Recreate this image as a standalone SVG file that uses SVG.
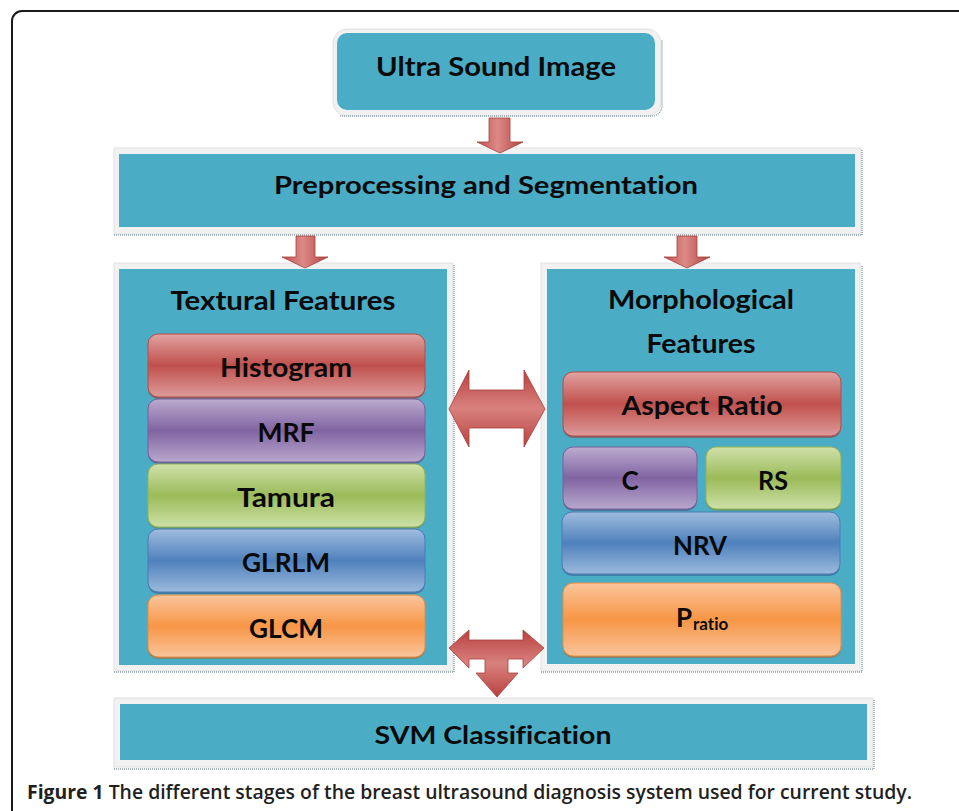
<svg xmlns="http://www.w3.org/2000/svg" width="959" height="811" viewBox="0 0 959 811">
  <defs>
    <style>
      .frame { fill: #ffffff; stroke: #1a1a1a; stroke-width: 2; }
      .band { fill: #f1f1f1; stroke: #e2e2e2; stroke-width: 1; }
      .teal { fill: #4bacc6; }
      .dots { stroke: #8aa0a8; stroke-width: 1.5; stroke-dasharray: 1 1; fill: none; }
      .lbl { font-family: Lato, "Open Sans", "DejaVu Sans", sans-serif; font-weight: 700; fill: #0a0a0a; text-anchor: middle; font-variant-ligatures: none; }
      .cap { font-family: "Open Sans", "Noto Sans", "DejaVu Sans", sans-serif; font-size: 19px; fill: #231f20; font-variant-ligatures: none; }
      .arrow { stroke: #a63f3c; stroke-width: 0.8; stroke-linejoin: miter; }
      .shade { opacity: 0.55; }
    </style>
    <linearGradient id="gRed" x1="0" y1="0" x2="0" y2="1">
      <stop offset="0" stop-color="#e1a3a1"/>
      <stop offset="0.5" stop-color="#c0504d"/>
      <stop offset="1" stop-color="#dc9b99"/>
    </linearGradient>
    <linearGradient id="gPurple" x1="0" y1="0" x2="0" y2="1">
      <stop offset="0" stop-color="#bcabcf"/>
      <stop offset="0.5" stop-color="#8064a2"/>
      <stop offset="1" stop-color="#b9a8cd"/>
    </linearGradient>
    <linearGradient id="gGreen" x1="0" y1="0" x2="0" y2="1">
      <stop offset="0" stop-color="#d0e1ab"/>
      <stop offset="0.5" stop-color="#9bbb59"/>
      <stop offset="1" stop-color="#cde0a6"/>
    </linearGradient>
    <linearGradient id="gBlue" x1="0" y1="0" x2="0" y2="1">
      <stop offset="0" stop-color="#a0bcde"/>
      <stop offset="0.5" stop-color="#4f81bd"/>
      <stop offset="1" stop-color="#9cb9dc"/>
    </linearGradient>
    <linearGradient id="gOrange" x1="0" y1="0" x2="0" y2="1">
      <stop offset="0" stop-color="#fbc59d"/>
      <stop offset="0.5" stop-color="#f79646"/>
      <stop offset="1" stop-color="#fac49b"/>
    </linearGradient>
    <linearGradient id="gArrowV" x1="0" y1="0" x2="1" y2="0">
      <stop offset="0" stop-color="#c0504d"/>
      <stop offset="0.45" stop-color="#dc8a87"/>
      <stop offset="1" stop-color="#b4423f"/>
    </linearGradient>
    <linearGradient id="gArrowH" x1="0" y1="0" x2="0" y2="1">
      <stop offset="0" stop-color="#b8413e"/>
      <stop offset="0.5" stop-color="#d9817e"/>
      <stop offset="1" stop-color="#b8413e"/>
    </linearGradient>
  </defs>

  <!-- figure frame -->
  <rect class="frame" x="12" y="11" width="1000" height="900" rx="10"/>

  <!-- top input node -->
  <g id="ultrasound">
    <rect class="band" x="333" y="29" width="328" height="87" rx="14"/>
    <path class="dots" d="M340 116 H650 Q661 116 662 106 V40"/>
    <rect class="teal" x="337" y="33" width="318" height="77" rx="10"/>
    <text class="lbl" x="496" y="76" font-size="26" textLength="240" lengthAdjust="spacingAndGlyphs">Ultra Sound Image</text>
  </g>

  <g id="preprocessing">
    <rect class="band" x="114" y="148" width="747" height="86"/>
    <path class="dots" d="M114 235 H862 V150"/>
    <rect class="teal" x="119" y="154" width="736" height="73"/>
    <text class="lbl" x="486" y="194" font-size="24" textLength="424" lengthAdjust="spacingAndGlyphs">Preprocessing and Segmentation</text>
  </g>

  <g id="textural">
    <rect class="band" x="114" y="263" width="339" height="408"/>
    <path class="dots" d="M114 672 H454 V265"/>
    <rect class="teal" x="119" y="269" width="328" height="396"/>
    <text class="lbl" x="283" y="310" font-size="26" textLength="225" lengthAdjust="spacingAndGlyphs">Textural Features</text>

    <g id="histogram">
      <rect class="shade" x="148" y="336" width="277" height="63" rx="10" fill="#8c3a38"/>
      <rect x="148" y="334" width="277" height="63" rx="10" fill="url(#gRed)" stroke="#b94a47"/>
      <text class="lbl" x="286" y="377" font-size="26" textLength="132" lengthAdjust="spacingAndGlyphs">Histogram</text>
    </g>
    <g id="mrf">
      <rect class="shade" x="148" y="401" width="277" height="63" rx="10" fill="#5a4478"/>
      <rect x="148" y="399" width="277" height="63" rx="10" fill="url(#gPurple)" stroke="#7a5e9b"/>
      <text class="lbl" x="286" y="442" font-size="26" textLength="57" lengthAdjust="spacingAndGlyphs">MRF</text>
    </g>
    <g id="tamura">
      <rect class="shade" x="148" y="466" width="277" height="63" rx="10" fill="#6f8a3c"/>
      <rect x="148" y="464" width="277" height="63" rx="10" fill="url(#gGreen)" stroke="#93b254"/>
      <text class="lbl" x="286" y="507" font-size="26" textLength="98" lengthAdjust="spacingAndGlyphs">Tamura</text>
    </g>
    <g id="glrlm">
      <rect class="shade" x="148" y="531" width="277" height="63" rx="10" fill="#345d8c"/>
      <rect x="148" y="529" width="277" height="63" rx="10" fill="url(#gBlue)" stroke="#4a7bb4"/>
      <text class="lbl" x="286" y="572" font-size="26" textLength="88" lengthAdjust="spacingAndGlyphs">GLRLM</text>
    </g>
    <g id="glcm">
      <rect class="shade" x="148" y="597" width="277" height="62" rx="10" fill="#b8621f"/>
      <rect x="148" y="595" width="277" height="62" rx="10" fill="url(#gOrange)" stroke="#e98b3f"/>
      <text class="lbl" x="286" y="638" font-size="26" textLength="74" lengthAdjust="spacingAndGlyphs">GLCM</text>
    </g>
  </g>

  <g id="morphological">
    <rect class="band" x="541" y="263" width="319" height="408"/>
    <path class="dots" d="M541 672 H862 V265"/>
    <rect class="teal" x="547" y="269" width="308" height="395"/>
    <text class="lbl" x="701" y="309" font-size="26" textLength="186" lengthAdjust="spacingAndGlyphs">Morphological</text>
    <text class="lbl" x="701" y="353" font-size="26" textLength="109" lengthAdjust="spacingAndGlyphs">Features</text>

    <g id="aspect-ratio">
      <rect class="shade" x="563" y="374" width="278" height="64" rx="10" fill="#8c3a38"/>
      <rect x="563" y="372" width="278" height="64" rx="10" fill="url(#gRed)" stroke="#b94a47"/>
      <text class="lbl" x="702" y="415" font-size="26" textLength="161" lengthAdjust="spacingAndGlyphs">Aspect Ratio</text>
    </g>
    <g id="c">
      <rect class="shade" x="563" y="449" width="134" height="62" rx="10" fill="#5a4478"/>
      <rect x="563" y="447" width="134" height="62" rx="10" fill="url(#gPurple)" stroke="#7a5e9b"/>
      <text class="lbl" x="630" y="490" font-size="26">C</text>
    </g>
    <g id="rs">
      <rect class="shade" x="706" y="449" width="135" height="62" rx="10" fill="#6f8a3c"/>
      <rect x="706" y="447" width="135" height="62" rx="10" fill="url(#gGreen)" stroke="#93b254"/>
      <text class="lbl" x="773" y="490" font-size="26" textLength="30" lengthAdjust="spacingAndGlyphs">RS</text>
    </g>
    <g id="nrv">
      <rect class="shade" x="562" y="514" width="278" height="62" rx="10" fill="#345d8c"/>
      <rect x="562" y="512" width="278" height="62" rx="10" fill="url(#gBlue)" stroke="#4a7bb4"/>
      <text class="lbl" x="700" y="555" font-size="26" textLength="54" lengthAdjust="spacingAndGlyphs">NRV</text>
    </g>
    <g id="pratio">
      <rect class="shade" x="563" y="585" width="278" height="73" rx="10" fill="#b8621f"/>
      <rect x="563" y="583" width="278" height="73" rx="10" fill="url(#gOrange)" stroke="#e98b3f"/>
      <text class="lbl" x="676" y="627" font-size="26" style="text-anchor:start">P<tspan font-size="17" dx="1" dy="3">ratio</tspan></text>
    </g>
  </g>

  <g id="svm">
    <rect class="band" x="114" y="698" width="759" height="69"/>
    <path class="dots" d="M114 769 H874 V700"/>
    <rect class="teal" x="120" y="704" width="747" height="56"/>
    <text class="lbl" x="493" y="744" font-size="25" textLength="237" lengthAdjust="spacingAndGlyphs">SVM Classification</text>
  </g>

  <!-- block arrows between stages -->
  <g id="connectors">
    <path class="arrow" fill="url(#gArrowV)" d="M489 118 H510 V142 H523 L500 153 L477 142 H489 Z"/>
    <path class="arrow" fill="url(#gArrowV)" d="M296 236 H315 V257 H328 L305 268 L282 257 H296 Z"/>
    <path class="arrow" fill="url(#gArrowV)" d="M677 236 H697 V257 H710 L687 268 L664 257 H677 Z"/>
    <path class="arrow" fill="url(#gArrowH)" d="M449 409 L469 370 V390 H524 V370 L545 409 L524 447 V428 H469 V447 Z"/>
    <path class="arrow" fill="url(#gArrowH)" d="M449 648 L469 630 V640 H523 V630 L544 648 L523 668 V659 H508 V673 H518 L497 697 L476 673 H485 V659 H469 V668 Z"/>
  </g>

  <!-- caption -->
  <text class="cap" x="27" y="799" textLength="885" lengthAdjust="spacingAndGlyphs"><tspan font-weight="700">Figure 1</tspan><tspan font-weight="600"> The different stages of the breast ultrasound diagnosis system used for current study.</tspan></text>
</svg>
